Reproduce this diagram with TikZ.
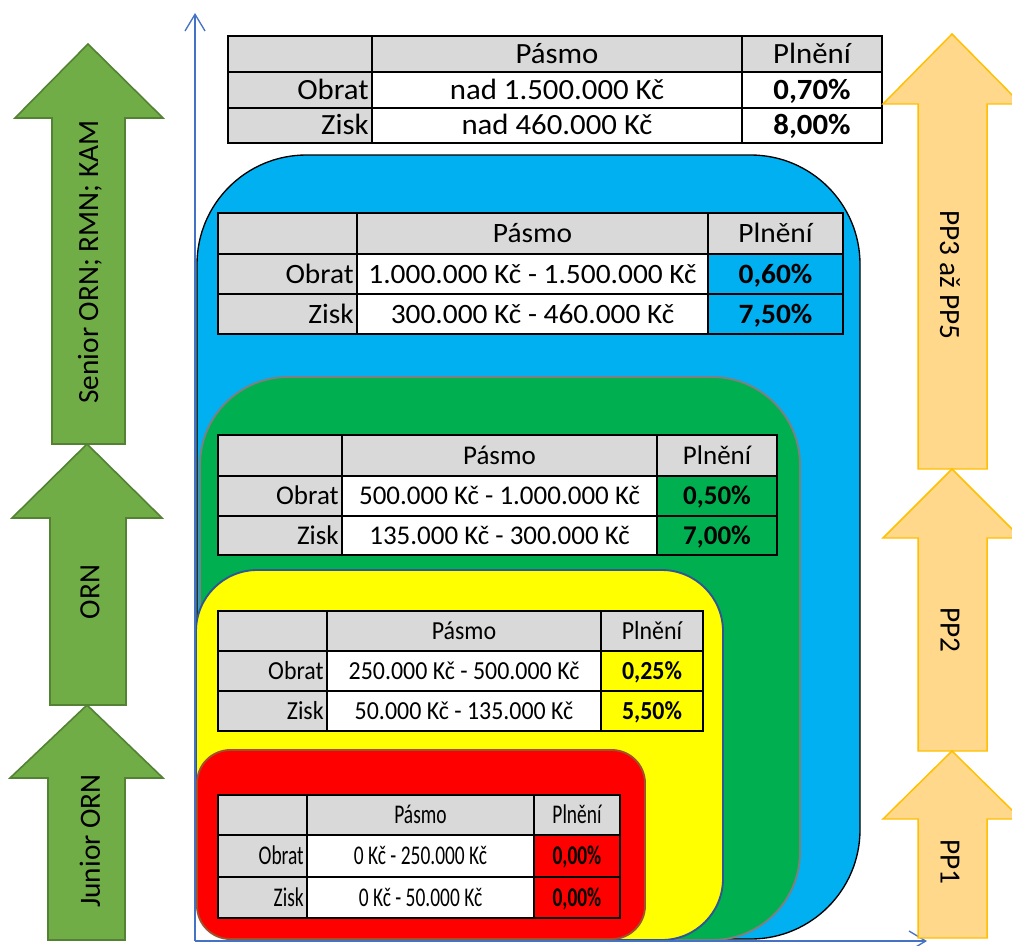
\documentclass[tikz,border=0pt]{standalone}
\usepackage{fontspec}
\setmainfont{Carlito}
\newfontfamily\ftop[FakeStretch=1.05]{Carlito}
\newfontfamily\fblue[FakeStretch=1.05]{Carlito}
\newfontfamily\fgreen{Carlito}
\newfontfamily\fyellow[FakeStretch=0.92]{Carlito}
\newfontfamily\fred[FakeStretch=0.72]{Carlito}
\usetikzlibrary{arrows.meta}
\definecolor{tgray}{HTML}{D9D9D9}
\definecolor{cblue}{HTML}{00B0F0}
\definecolor{cgreen}{HTML}{00B050}
\definecolor{cyellow}{HTML}{FFFF00}
\definecolor{cred}{HTML}{FF0000}
\definecolor{agreen}{HTML}{70AD47}
\definecolor{agreenb}{HTML}{548235}
\definecolor{aorange}{HTML}{FFD88C}
\definecolor{aorangeb}{HTML}{FFC000}
\definecolor{axisblue}{HTML}{4472C4}
\definecolor{greenedge}{HTML}{7F7F7F}
\definecolor{yellowedge}{HTML}{2F5597}
\definecolor{rededge}{HTML}{A0522D}
\tikzset{
  tline/.style={draw=black, line width=\tlw},
  ttext/.style={anchor=base, inner sep=0pt},
  garrow/.style={fill=agreen, draw=agreenb, line width=1.2pt, line join=miter},
  oarrow/.style={fill=aorange, draw=aorangeb, line width=1.1pt, line join=miter},
  atext/.style={font=\fontsize{22pt}{26pt}\selectfont, inner sep=0pt},
  axisline/.style={draw=axisblue, line width=1pt, -{Straight Barb[length=12.5pt,width=15pt,line width=1pt]}},
  zone/.style={line width=1.4pt},
}
\def\setcols#1,#2,#3,#4;{\def\xa{#1}\def\xb{#2}\def\xc{#3}\def\xd{#4}}
\def\setrows#1,#2,#3,#4;{\def\ya{#1}\def\yb{#2}\def\yc{#3}\def\yd{#4}}
% #1 name, #2 cols, #3 rows, #4 font, #5 value fill, #6 obrat, #7 zisk, #8 v1, #9 v2
\newcommand\ptable[9]{%
  \setcols#2;\setrows#3;
  \fill[tgray] (\xa,\ya) rectangle (\xd,\yb);
  \fill[tgray] (\xa,\yb) rectangle (\xb,\yd);
  \fill[white] (\xb,\yb) rectangle (\xc,\yd);
  \fill[#5] (\xc,\yb) rectangle (\xd,\yd);
  \draw[tline] (\xa,\ya) rectangle (\xd,\yd);
  \draw[tline] (\xa,\yb) -- (\xd,\yb) (\xa,\yc) -- (\xd,\yc) (\xb,\ya) -- (\xb,\yd) (\xc,\ya) -- (\xc,\yd);
  \node[ttext,font={#4}] (#1-pasmo) at ({(\xb+\xc)/2},{(\ya+\yb)/2+\capoff}) {Pásmo};
  \node[ttext,font={#4}] (#1-plneni) at ({(\xc+\xd)/2},{(\ya+\yb)/2+\capoff}) {Plnění};
  \node[ttext,anchor=base east,font={#4}] (#1-obrat) at ({\xb-3},{(\yb+\yc)/2+\capoff}) {Obrat};
  \node[ttext,anchor=base east,font={#4}] (#1-zisk) at ({\xb-3},{(\yc+\yd)/2+\capoff}) {Zisk};
  \node[ttext,font={#4}] (#1-r1) at ({(\xb+\xc)/2},{(\yb+\yc)/2+\capoff}) {#6};
  \node[ttext,font={#4}] (#1-r2) at ({(\xb+\xc)/2},{(\yc+\yd)/2+\capoff}) {#7};
  \node[ttext,font={#4\bfseries}] (#1-v1) at ({(\xc+\xd)/2},{(\yb+\yc)/2+\capoff}) {#8};
  \node[ttext,font={#4\bfseries}] (#1-v2) at ({(\xc+\xd)/2},{(\yc+\yd)/2+\capoff}) {#9};
}
\begin{document}
\begin{tikzpicture}[x=0.75pt,y=-0.75pt]
\useasboundingbox (0,0) rectangle (1012,945);
\fill[white] (0,0) rectangle (1012,945);

% zones
\draw[zone, fill=cblue, draw=black, line width=1pt, rounded corners=82pt] (197,155) rectangle (860,939);
\draw[zone, fill=cgreen, draw=greenedge, rounded corners=66pt] (200,377) rectangle (800,940);
\draw[zone, fill=cyellow, draw=yellowedge, rounded corners=46pt] (196,570) rectangle (723,940);
\draw[zone, fill=cred, draw=rededge, rounded corners=25pt] (197,750) rectangle (645,939);

% tables
\def\tlw{2.2pt}\def\capoff{9.5}
\ptable{t1}{228,372,742,882}{36,72,108,143}{\ftop\fontsize{22pt}{26pt}\selectfont}{white}{nad 1.500.000 Kč}{nad 460.000 Kč}{0,70\%}{8,00\%}
\def\tlw{1.8pt}\def\capoff{9}
\ptable{t2}{218,357,708,843}{213,254,294,334}{\fblue\fontsize{21pt}{25pt}\selectfont}{cblue}{1.000.000 Kč - 1.500.000 Kč}{300.000 Kč - 460.000 Kč}{0,60\%}{7,50\%}
\def\capoff{8.7}
\ptable{t3}{218,342,657,777}{435,476,516,555}{\fgreen\fontsize{20.25pt}{24pt}\selectfont}{cgreen}{500.000 Kč - 1.000.000 Kč}{135.000 Kč - 300.000 Kč}{0,50\%}{7,00\%}
\def\capoff{8.4}
\ptable{t4}{218,327,601,703}{611,651,691,731}{\fyellow\fontsize{19.5pt}{23pt}\selectfont}{cyellow}{250.000 Kč - 500.000 Kč}{50.000 Kč - 135.000 Kč}{0,25\%}{5,50\%}
\def\capoff{8.7}
\ptable{t5}{218,307,534,620}{795,835,877,918}{\fred\fontsize{20.25pt}{24pt}\selectfont}{cred}{0 Kč - 250.000 Kč}{0 Kč - 50.000 Kč}{0,00\%}{0,00\%}

% axes
\coordinate (o) at (195,941);
\coordinate (ytop) at (195,13);
\coordinate (xend) at (927,941);
\draw[axisline] (o) -- (ytop);
\draw[axisline] (o) -- (xend);

% left arrows
\draw[garrow] (88,44) -- (163,118) -- (125,118) -- (125,444) -- (52,444) -- (52,118) -- (15,118) -- cycle;
\draw[garrow] (87,444) -- (162,518) -- (126,518) -- (126,705) -- (50,705) -- (50,518) -- (12,518) -- cycle;
\draw[garrow] (87,705) -- (163,778) -- (125,778) -- (125,940) -- (48,940) -- (48,778) -- (10,778) -- cycle;
\node[atext, rotate=90] (senior) at (90,262) {Senior ORN; RMN; KAM};
\node[atext, rotate=90] (orn) at (90,592) {ORN};
\node[atext, rotate=90] (junior) at (90,841) {Junior ORN};

% right arrows
\draw[oarrow] (952,34) -- (1021,104) -- (987,104) -- (987,469) -- (918,469) -- (918,104) -- (883,104) -- cycle;
\draw[oarrow] (952,469) -- (1021,538) -- (987,538) -- (987,751) -- (918,751) -- (918,538) -- (883,538) -- cycle;
\draw[oarrow] (952,751) -- (1021,819) -- (987,819) -- (987,938) -- (918,938) -- (918,819) -- (883,819) -- cycle;
\node[atext, rotate=-90] (pp35) at (950,275) {PP3 až PP5};
\node[atext, rotate=-90] (pp2) at (950,630) {PP2};
\node[atext, rotate=-90] (pp1) at (950,862) {PP1};
\end{tikzpicture}
\end{document}
